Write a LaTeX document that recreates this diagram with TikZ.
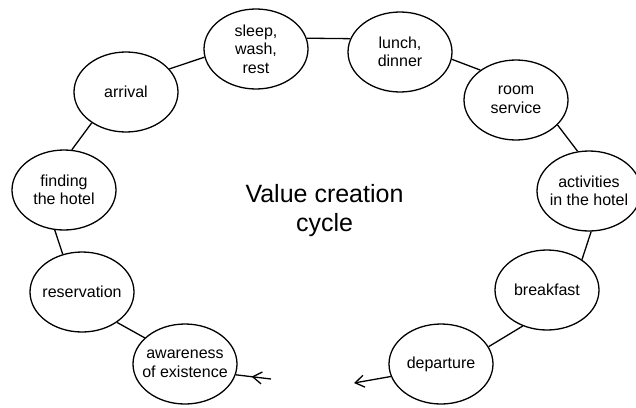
\documentclass[tikz,border=0pt]{standalone}
\usepackage{fontspec}
\setmainfont{Liberation Sans}
\usetikzlibrary{shapes.geometric, arrows.meta, decorations.markings}
\begin{document}
\begin{tikzpicture}[x=1pt,y=-1pt,
  stage/.style={ellipse, draw, line width=1.3pt, minimum width=104pt, minimum height=80pt,
    inner sep=-12pt, align=center, font=\fontsize{16}{18.5}\selectfont},
  link/.style={line width=1.3pt},
  barbtip/.tip={Straight Barb[length=9pt,width=12pt,line width=1.3pt]}]
\fill[white] (0,0) rectangle (636,407);
\useasboundingbox (0,0) rectangle (636,407);

\node[stage] (sleep) at (256,49) {sleep,\\wash,\\rest};
\node[stage] (lunch) at (400,52) {lunch,\\dinner};
\node[stage] (room) at (516,100) {room\\service};
\node[stage] (act) at (589,191) {activities\\in the hotel};
\node[stage] (breakfast) at (547,290) {breakfast};
\node[stage] (departure) at (441,364) {departure};
\node[stage] (awareness) at (185,364) {awareness\\of existence};
\node[stage] (reservation) at (82,292) {reservation};
\node[stage] (finding) at (64,190) {finding\\the hotel};
\node[stage] (arrival) at (126,92) {arrival};

\node[align=center, font=\fontsize{25}{29}\selectfont] (title) at (324.5,211) {Value creation\\cycle};

\draw[link] (arrival.28) -- (sleep.189);
\draw[link] (sleep.12) -- (lunch.165);
\draw[link] (lunch.352) -- (room.140);
\draw[link] (room.329) -- (act.106);
\draw[link] (act.273) -- (breakfast.41);
\draw[link] (breakfast.236) -- (departure.20);
\draw[link] (finding.79) -- (arrival.222);
\draw[link] (finding.257) -- (reservation.117);
\draw[link] (reservation.319) -- (awareness.147);

\coordinate (awin) at (271,379);
\coordinate (depout) at (354,383);
\draw[link, postaction={decorate}, decoration={markings,
  mark=at position 0.55 with {\arrow{barbtip}}}] (awin) -- (awareness.-12);
\draw[link, -{barbtip}] (departure.194) -- (depout);
\end{tikzpicture}
\end{document}
